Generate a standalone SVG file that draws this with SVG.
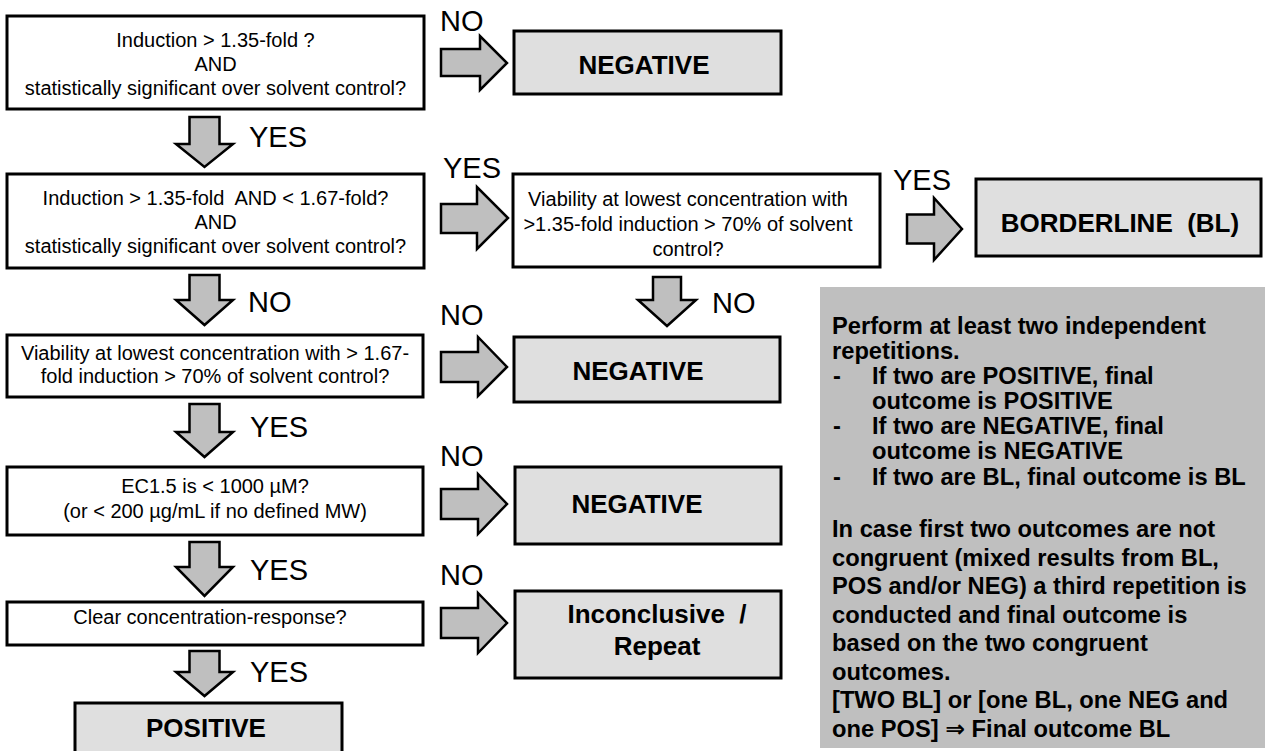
<svg xmlns="http://www.w3.org/2000/svg" width="1265" height="751" viewBox="0 0 1265 751">
<style>
.box{fill:#fff;stroke:#000;stroke-width:3}
.out{fill:#dfdfdf;stroke:#000;stroke-width:3}
.arr{fill:#bfbfbf;stroke:#000;stroke-width:2.5;stroke-linejoin:miter}
text{font-family:"Liberation Sans",Arial,"DejaVu Sans",sans-serif;fill:#000}
.t{font-size:20px;text-anchor:middle}
.lbl{font-size:29px}
.ob{font-size:26px;font-weight:bold;text-anchor:middle;white-space:pre}
.p{font-size:23.7px;font-weight:bold}
</style>
<rect width="1265" height="751" fill="#fff"/>

<g id="connectors">
<path class="arr" d="M189.5 117 H219.5 V144 H233 L204.5 167 L176 144 H189.5 Z"/>
<path class="arr" d="M189.5 275 H219.5 V300 H233 L204.5 325 L176 300 H189.5 Z"/>
<path class="arr" d="M189.5 404 H219.5 V432 H233 L204.5 457 L176 432 H189.5 Z"/>
<path class="arr" d="M189.5 542 H219.5 V567 H233 L204.5 596 L176 567 H189.5 Z"/>
<path class="arr" d="M189.5 651 H219.5 V672 H233 L204.5 696 L176 672 H189.5 Z"/>
<path class="arr" d="M653 277 H681 V300 H696 L667 326 L638 300 H653 Z"/>
<path class="arr" d="M441 49 H480 V36 L507 63 L480 90 V76 H441 Z"/>
<path class="arr" d="M441 204 H477 V187 L508 218 L477 249 V233 H441 Z"/>
<path class="arr" d="M907 214.5 H934 V198 L962 229 L934 260 V243.5 H907 Z"/>
<path class="arr" d="M441 352 H478 V337 L507 367 L478 396 V382 H441 Z"/>
<path class="arr" d="M441 489 H478 V474 L507 504 L478 534 V519 H441 Z"/>
<path class="arr" d="M441 608 H478 V593 L507 623 L478 653 V638 H441 Z"/>
<text class="lbl" x="440" y="31">NO</text>
<text class="lbl" x="249" y="147">YES</text>
<text class="lbl" x="443" y="178">YES</text>
<text class="lbl" x="893" y="190">YES</text>
<text class="lbl" x="248" y="312">NO</text>
<text class="lbl" x="712" y="313">NO</text>
<text class="lbl" x="440" y="325">NO</text>
<text class="lbl" x="250" y="437">YES</text>
<text class="lbl" x="440" y="466">NO</text>
<text class="lbl" x="250" y="580">YES</text>
<text class="lbl" x="440" y="585">NO</text>
<text class="lbl" x="250" y="682">YES</text>
</g>

<g id="q1">
<rect class="box" x="7" y="16" width="417" height="93"/>
<text class="t" x="215.5" y="46.5">Induction &gt; 1.35-fold ?</text>
<text class="t" x="215.5" y="70.5">AND</text>
<text class="t" x="215.5" y="95">statistically significant over solvent control?</text>
</g>

<g id="neg1">
<rect class="out" x="514" y="31" width="267" height="63"/>
<text class="ob" x="644" y="74">NEGATIVE</text>
</g>

<g id="q2">
<rect class="box" x="7" y="174" width="417" height="94"/>
<text class="t" x="215.5" y="204.5" style="white-space:pre">Induction &gt; 1.35-fold  AND &lt; 1.67-fold?</text>
<text class="t" x="215.5" y="228.5">AND</text>
<text class="t" x="215.5" y="253">statistically significant over solvent control?</text>
</g>

<g id="q2b">
<rect class="box" x="513" y="174" width="367" height="93"/>
<text class="t" x="688" y="206">Viability at lowest concentration with</text>
<text class="t" x="688" y="231">&gt;1.35-fold induction &gt; 70% of solvent</text>
<text class="t" x="688" y="256">control?</text>
</g>

<g id="borderline">
<rect class="out" x="976" y="179" width="285" height="77"/>
<text class="ob" x="1120" y="232">BORDERLINE  (BL)</text>
</g>

<g id="q3">
<rect class="box" x="7" y="335" width="416" height="62"/>
<text class="t" x="215" y="360">Viability at lowest concentration with &gt; 1.67-</text>
<text class="t" x="215" y="383">fold induction &gt; 70% of solvent control?</text>
</g>

<g id="neg2">
<rect class="out" x="514" y="337" width="266" height="65"/>
<text class="ob" x="638" y="380">NEGATIVE</text>
</g>

<g id="q4">
<rect class="box" x="7" y="467" width="416" height="68"/>
<text class="t" x="215" y="493">EC1.5 is &lt; 1000 µM?</text>
<text class="t" x="215" y="518">(or &lt; 200 µg/mL if no defined MW)</text>
</g>

<g id="neg3">
<rect class="out" x="515" y="467" width="266" height="77"/>
<text class="ob" x="637" y="513">NEGATIVE</text>
</g>

<g id="q5">
<rect class="box" x="7" y="602" width="416" height="43"/>
<text class="t" x="210" y="624">Clear concentration-response?</text>
</g>

<g id="inconclusive">
<rect class="out" x="515" y="591" width="266" height="87"/>
<text class="ob" x="657" y="623">Inconclusive  /</text>
<text class="ob" x="657" y="655">Repeat</text>
</g>

<g id="positive">
<rect class="out" x="75" y="703" width="267" height="60"/>
<text class="ob" x="206" y="737">POSITIVE</text>
</g>

<g id="notes">
<rect x="820" y="287" width="445" height="461" fill="#bfbfbf"/>
<text class="p" x="832" y="334">Perform at least two independent</text>
<text class="p" x="832" y="359">repetitions.</text>
<text class="p" x="833" y="384">-</text>
<text class="p" x="872" y="384">If two are POSITIVE, final</text>
<text class="p" x="872" y="409">outcome is POSITIVE</text>
<text class="p" x="833" y="434">-</text>
<text class="p" x="872" y="434">If two are NEGATIVE, final</text>
<text class="p" x="872" y="459">outcome is NEGATIVE</text>
<text class="p" x="833" y="485">-</text>
<text class="p" x="872" y="485">If two are BL, final outcome is BL</text>
<text class="p" x="832" y="537">In case first two outcomes are not</text>
<text class="p" x="832" y="566">congruent (mixed results from BL,</text>
<text class="p" x="832" y="594">POS and/or NEG) a third repetition is</text>
<text class="p" x="832" y="623">conducted and final outcome is</text>
<text class="p" x="832" y="651">based on the two congruent</text>
<text class="p" x="832" y="680">outcomes.</text>
<text class="p" x="832" y="708">[TWO BL] or [one BL, one NEG and</text>
<text class="p" x="832" y="737">one POS] ⇒ Final outcome BL</text>
</g>
</svg>
